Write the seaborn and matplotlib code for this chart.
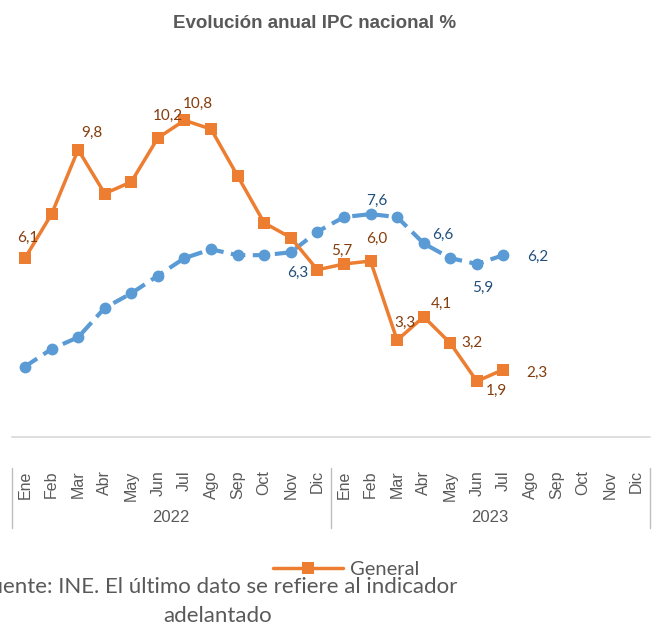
import pandas as pd
import seaborn as sns
import matplotlib.pyplot as plt
from matplotlib.lines import Line2D
import matplotlib.transforms as mtransforms

# datos
meses = ["Ene", "Feb", "Mar", "Abr", "May", "Jun", "Jul", "Ago", "Sep", "Oct", "Nov", "Dic"]
anios = ["2022", "2023"]
general = [6.1, 7.6, 9.8, 8.3, 8.7, 10.2, 10.8, 10.5, 8.9, 7.3, 6.8, 5.7,
           5.9, 6.0, 3.3, 4.1, 3.2, 1.9, 2.3]
subyacente = [2.4, 3.0, 3.4, 4.4, 4.9, 5.5, 6.1, 6.4, 6.2, 6.2, 6.3, 7.0,
              7.5, 7.6, 7.5, 6.6, 6.1, 5.9, 6.2]

# etiquetas de datos: indice -> desplazamiento en pixeles
etq_general = {0: (3, 20), 2: (14, 17), 5: (10, 22), 6: (13, 16), 11: (24, 19),
               13: (6, 22), 14: (8, 17), 15: (18, 13), 16: (22, 0), 17: (20, -10), 18: (33, -3)}
etq_sub = {10: (7, -21), 13: (6, 13), 15: (19, 9), 17: (6, -24), 18: (34, -2)}

naranja = "#ED7D31"
azul = "#5B9BD5"
gris = "#595959"

sns.set_style("white")
plt.rcParams['font.family'] = ['Liberation Sans', 'DejaVu Sans']

df = pd.DataFrame({"pos": range(len(general)), "General": general, "Subyacente": subyacente})

fig = plt.figure(figsize=(6.57, 6.26), dpi=100)
ax = fig.add_axes([0.0178, 0.302, 0.971, 0.562])

sns.lineplot(data=df, x="pos", y="Subyacente", ax=ax, color=azul, linewidth=3,
             linestyle=(0, (3.5, 1.8)), marker="o", markersize=8.5, markeredgewidth=0)
sns.lineplot(data=df, x="pos", y="General", ax=ax, color=naranja, linewidth=2.5,
             marker="s", markersize=8, markeredgewidth=0)

def fmt(v):
    return f"{v:.1f}".replace(".", ",")

for i, (dx, dy) in etq_general.items():
    ax.annotate(fmt(general[i]), (i, general[i]), xytext=(dx, dy), textcoords="offset pixels",
                ha="center", va="center", fontsize=11, color="#843C0C", family="Lato")
for i, (dx, dy) in etq_sub.items():
    ax.annotate(fmt(subyacente[i]), (i, subyacente[i]), xytext=(dx, dy), textcoords="offset pixels",
                ha="center", va="center", fontsize=11, color="#1F4E79", family="Lato")

ax.set_xlim(-0.5, 23.5)
ax.set_ylim(0, 12)
ax.set_xlabel("")
ax.set_ylabel("")
ax.set_yticks([])
ax.set_xticks(range(24))
ax.set_xticklabels(meses * 2, rotation=90, fontsize=11.5, color=gris)
ax.tick_params(axis="x", length=0, pad=24)
for s in ["top", "right", "left"]:
    ax.spines[s].set_visible(False)
ax.spines["bottom"].set_color("#D9D9D9")
ax.spines["bottom"].set_linewidth(1.2)

# años y separadores
trans = mtransforms.blended_transform_factory(ax.transData, fig.transFigure)
for k, a in enumerate(anios):
    ax.text(5.5 + 12 * k, 1 - 518 / 626, a, transform=trans, ha="center", va="center",
            fontsize=12, color=gris)
for xs in [-0.5, 11.5, 23.5]:
    ax.add_line(Line2D([xs, xs], [1 - 468 / 626, 1 - 528 / 626], transform=trans,
                       color="#BFBFBF", linewidth=1, clip_on=False))

fig.text(315 / 657, 1 - 24 / 626, "Evolución anual IPC nacional %", ha="center", va="center",
         fontsize=13.5, fontweight="bold", color=gris)

h = Line2D([], [], color=naranja, linewidth=2.5, marker="s", markersize=9, markeredgewidth=0)
fig.legend([h], ["General"], loc="center", bbox_to_anchor=(346 / 657, 1 - 569 / 626), frameon=False,
           prop={"family": "Lato", "size": 14.5}, labelcolor=gris, handlelength=3.5,
           handletextpad=0.35, borderpad=0, borderaxespad=0)

# fuente (cortada en el borde izquierdo como en el original)
fig.text(217.5 / 657, 1 - 593 / 626, "Fuente: INE. El último dato se refiere al indicador",
         ha="center", va="baseline", fontsize=16, color=gris, family="Lato")
fig.text(217.5 / 657, 1 - 622 / 626, "adelantado",
         ha="center", va="baseline", fontsize=16, color=gris, family="Lato")

fig.savefig("out.png", dpi=100)
